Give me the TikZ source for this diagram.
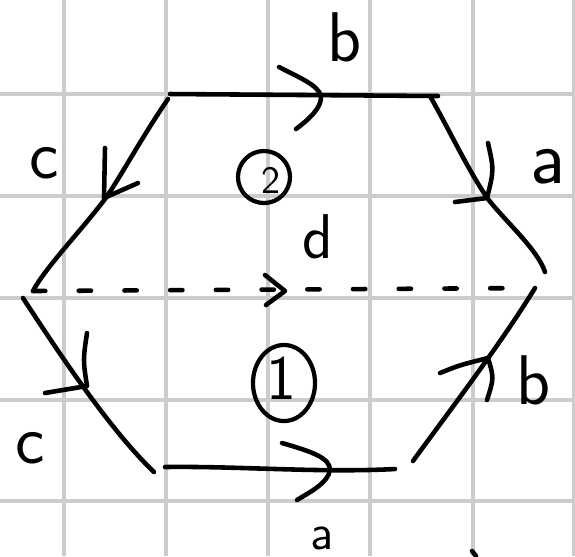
\documentclass[tikz,border=0pt]{standalone}
\usetikzlibrary{shapes.geometric}
\begin{document}
\begin{tikzpicture}[x=0.01cm,y=-0.01cm,line width=1.3pt,line cap=round,line join=round,
  gridline/.style={line width=0.9pt,draw=black!20,line cap=butt},
  dashline/.style={dash pattern=on 3.5pt off 9.5pt},
  lbl/.style={font=\sffamily\fontsize{20}{20}\selectfont,inner sep=0pt},
  ring/.style={draw,circle,line width=1.2pt,inner sep=0pt,minimum size=0.52cm},
  oval/.style={draw,ellipse,line width=1.2pt,inner sep=0pt,minimum width=0.62cm,minimum height=0.76cm}]
\fill[white] (0,0) rectangle (575,556);
\useasboundingbox (0,0) rectangle (575,556);
\foreach \x in {64,166,268,370,473,574}
  \draw[gridline] (\x,0) -- (\x,556);
\foreach \y in {94,196,298,400,501}
  \draw[gridline] (0,\y) -- (575,\y);
\coordinate (A) at (170,94);
\coordinate (B) at (438,96);
\coordinate (C) at (545,272);
\coordinate (D) at (535,288);
\coordinate (E) at (413,461);
\coordinate (F) at (165,467);
\coordinate (G) at (154,472);
\coordinate (H) at (23,298);
\coordinate (I) at (33,291);
\draw (A) -- (B);
\draw (430,96) .. controls (452,135) and (468,170) .. (488,199) .. controls (506,222) and (538,250) .. (C);
\draw (168,99) .. controls (140,140) and (120,178) .. (105,199) .. controls (80,232) and (45,268) .. (I);
\draw[dashline] (I) -- (D);
\draw (H) .. controls (62,358) and (112,432) .. (G);
\draw (F) .. controls (240,466) and (320,473) .. (395,469);
\draw (E) .. controls (450,410) and (500,345) .. (D);
\draw (279,67) .. controls (300,78) and (318,85) .. (321,96) .. controls (322,108) and (308,120) .. (296,129);
\draw (105,148) -- (104,198) -- (138,183);
\draw (488,143) .. controls (494,170) .. (487,198) -- (455,202);
\draw (265,275) -- (285,291) -- (266,305);
\draw (87,333) .. controls (83,360) .. (87,386) -- (45,393);
\draw (282,443) .. controls (313,452) and (330,458) .. (330,470) .. controls (328,483) and (310,492) .. (297,500);
\draw (440,373) .. controls (460,365) .. (488,358) .. controls (494,378) .. (487,400);
\draw (472,551) -- (476,556);
\node[ring] (two) at (264,177) {};
\node[lbl,font=\sffamily\fontsize{11}{11}\selectfont] (twotext) at (271,180) {2};
\node[oval] (one) at (284,383) {};
\node[lbl,font=\sffamily\fontsize{18}{18}\selectfont] (onetext) at (281,378) {1};
\node[lbl] (btop) at (345,37) {b};
\node[lbl] (cup) at (44,163) {c};
\node[lbl,font=\sffamily\fontsize{22}{22}\selectfont] (aup) at (548,167) {a};
\node[lbl,font=\sffamily\fontsize{18}{18}\selectfont] (dmid) at (318,237) {d};
\node[lbl] (clow) at (30,448) {c};
\node[lbl] (blow) at (534,380) {b};
\node[lbl,font=\sffamily\fontsize{14}{14}\selectfont] (alow) at (322,538) {a};
\end{tikzpicture}
\end{document}
